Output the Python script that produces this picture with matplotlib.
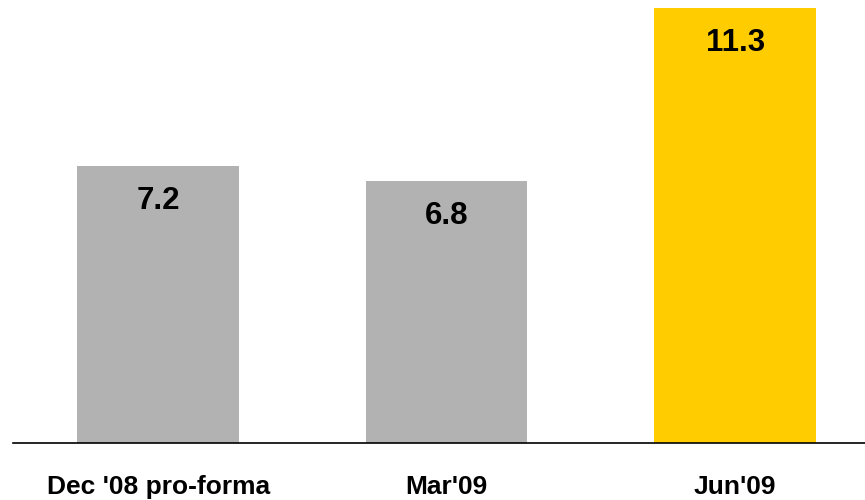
import matplotlib.pyplot as plt

# data
categories = ["Dec '08 pro-forma", "Mar'09", "Jun'09"]
values = [7.2, 6.8, 11.3]
colors = ["#B2B2B2", "#B2B2B2", "#FFCC00"]

plt.rcParams['font.family'] = ['Liberation Sans', 'DejaVu Sans']

fig = plt.figure(figsize=(8.65, 5), dpi=100)
ax = fig.add_axes([13 / 865, 57 / 500, 852 / 865, 443 / 500])

x = range(len(values))
bars = ax.bar(x, values, width=0.56, color=colors)

# labels inside the bars
for b, v in zip(bars, values):
    ax.annotate(f"{v:.1f}", (b.get_x() + b.get_width() / 2, v),
                xytext=(0, -25.5), textcoords="offset points",
                ha="center", va="center", fontsize=22.5, fontweight="bold")

ax.set_xlim(-0.503, 2.45)
ax.set_ylim(0, 11.5)
ax.set_xticks(list(x))
ax.set_xticklabels(categories, fontsize=19, fontweight="bold")
ax.tick_params(axis="x", length=0, pad=23)
ax.set_yticks([])
for s in ["top", "left", "right"]:
    ax.spines[s].set_visible(False)
ax.spines["bottom"].set_linewidth(1.2)

fig.savefig("out.png", dpi=100)
